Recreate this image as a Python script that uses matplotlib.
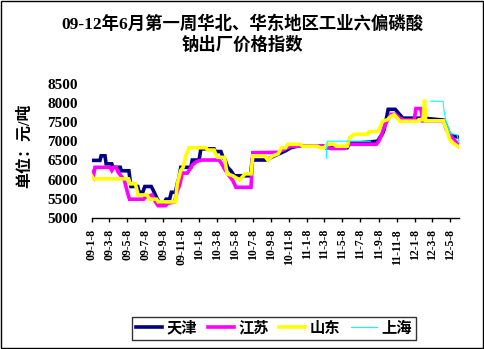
import numpy as np
import pandas as pd
import matplotlib
matplotlib.use("Agg")
import matplotlib.pyplot as plt
from matplotlib.patches import Rectangle

plt.rcParams['font.family'] = ['Liberation Serif', 'Noto Sans CJK SC']
plt.rcParams['font.weight'] = 'bold'

title = "09-12年6月第一周华北、华东地区工业六偏磷酸\n钠出厂价格指数"
y_label = "单位：元/吨"
series_names = ["天津", "江苏", "山东", "上海"]
series_colors = ["#000080", "#FF00FF", "#FFFF00", "#00FFFF"]

# price index per region, one point where the weekly quote changes
tianjin_dates = [
    "2009-01-08", "2009-02-05", "2009-02-09", "2009-02-22", "2009-02-26", "2009-03-17",
    "2009-03-21", "2009-04-15", "2009-04-18", "2009-05-14", "2009-05-21", "2009-06-13",
    "2009-06-18", "2009-06-30", "2009-07-07", "2009-07-29", "2009-08-06", "2009-08-15",
    "2009-08-24", "2009-09-11", "2009-09-17", "2009-09-29", "2009-10-05", "2009-10-19",
    "2009-10-25", "2009-10-31", "2009-11-06", "2009-12-10", "2009-12-15", "2010-01-07",
    "2010-01-13", "2010-02-27", "2010-03-03", "2010-03-22", "2010-03-28", "2010-04-05",
    "2010-04-14", "2010-04-25", "2010-05-06", "2010-06-30", "2010-07-06", "2010-08-23",
    "2010-09-14", "2010-10-13", "2010-10-27", "2010-11-14", "2010-12-06", "2011-03-05",
    "2011-03-12", "2011-05-24", "2011-06-02", "2011-07-08", "2011-09-04", "2011-09-12",
    "2011-09-21", "2011-09-26", "2011-10-02", "2011-10-10", "2011-11-03", "2011-11-15",
    "2011-11-29", "2012-02-06", "2012-04-14", "2012-04-22", "2012-05-03", "2012-05-12",
    "2012-06-05",
]
tianjin_vals = [
    6500, 6500, 6620, 6620, 6410, 6410,
    6320, 6320, 6230, 6230, 5820, 5820,
    5670, 5670, 5820, 5820, 5700, 5550,
    5400, 5400, 5490, 5490, 5670, 5670,
    5900, 6050, 6320, 6320, 6510, 6510,
    6800, 6800, 6730, 6730, 6600, 6510,
    6320, 6230, 6100, 6100, 6510, 6510,
    6600, 6700, 6750, 6830, 6870, 6870,
    6830, 6830, 6960, 6960, 7000, 7100,
    7200, 7300, 7520, 7830, 7830, 7720,
    7600, 7600, 7550, 7430, 7220, 7150,
    7100,
]

jiangsu_dates = [
    "2009-01-08", "2009-01-14", "2009-01-19", "2009-03-11", "2009-03-17", "2009-03-23",
    "2009-04-01", "2009-04-07", "2009-04-17", "2009-04-28", "2009-05-07", "2009-05-16",
    "2009-07-03", "2009-07-10", "2009-08-01", "2009-08-12", "2009-08-21", "2009-09-15",
    "2009-09-23", "2009-10-16", "2009-10-25", "2009-11-02", "2009-11-11", "2009-11-28",
    "2009-12-06", "2009-12-15", "2009-12-30", "2010-01-15", "2010-03-16", "2010-03-24",
    "2010-04-03", "2010-04-14", "2010-05-01", "2010-05-12", "2010-07-02", "2010-07-08",
    "2010-10-02", "2010-10-11", "2010-11-14", "2011-03-12", "2011-03-29", "2011-05-13",
    "2011-05-24", "2011-06-04", "2011-08-31", "2011-09-08", "2011-09-17", "2011-09-27",
    "2011-10-08", "2011-10-19", "2011-11-03", "2011-11-18", "2011-12-01", "2012-01-06",
    "2012-01-12", "2012-01-29", "2012-02-03", "2012-04-14", "2012-04-25", "2012-05-09",
    "2012-05-18", "2012-05-29", "2012-06-05",
]
jiangsu_vals = [
    6200, 6100, 6320, 6320, 6240, 6320,
    6320, 6200, 6100, 6000, 5730, 5490,
    5490, 5550, 5600, 5420, 5320, 5320,
    5380, 5420, 5700, 5850, 6170, 6170,
    6260, 6380, 6470, 6510, 6510, 6420,
    6280, 6150, 5980, 5800, 5800, 6700,
    6710, 6750, 6870, 6870, 6810, 6810,
    6870, 6920, 6920, 7000, 7150, 7380,
    7550, 7700, 7700, 7600, 7550, 7550,
    7850, 7850, 7530, 7530, 7290, 7150,
    7060, 6960, 6880,
]

shandong_dates = [
    "2009-01-08", "2009-01-14", "2009-05-13", "2009-05-19", "2009-06-05", "2009-06-11",
    "2009-06-14", "2009-07-15", "2009-07-23", "2009-08-16", "2009-08-21", "2009-10-19",
    "2009-10-25", "2009-11-06", "2009-11-14", "2009-11-23", "2009-12-04", "2010-01-30",
    "2010-02-05", "2010-02-27", "2010-03-05", "2010-03-11", "2010-04-03", "2010-04-12",
    "2010-05-01", "2010-05-12", "2010-05-24", "2010-06-04", "2010-06-12", "2010-07-02",
    "2010-07-08", "2010-08-17", "2010-08-28", "2010-09-14", "2010-10-02", "2010-10-13",
    "2010-10-27", "2010-11-04", "2010-12-17", "2010-12-23", "2011-02-12", "2011-02-21",
    "2011-03-08", "2011-03-17", "2011-04-08", "2011-04-17", "2011-05-24", "2011-06-01",
    "2011-06-16", "2011-07-31", "2011-08-06", "2011-09-03", "2011-09-12", "2011-09-21",
    "2011-10-08", "2011-10-19", "2011-10-30", "2011-11-10", "2011-11-18", "2012-01-16",
    "2012-01-22", "2012-02-05", "2012-02-10", "2012-02-14", "2012-04-14", "2012-04-25",
    "2012-05-06", "2012-05-19", "2012-06-05",
]
shandong_vals = [
    6100, 6020, 6020, 5890, 5890, 5700,
    5600, 5600, 5490, 5490, 5420, 5420,
    5890, 6240, 6320, 6620, 6830, 6830,
    6770, 6770, 6650, 6580, 6580, 6150,
    6100, 6050, 5990, 6080, 6150, 6150,
    6620, 6620, 6510, 6620, 6670, 6830,
    6830, 6920, 6920, 6870, 6870, 6830,
    6830, 6920, 6920, 6870, 6870, 7090,
    7180, 7180, 7250, 7250, 7350, 7520,
    7560, 7650, 7690, 7600, 7520, 7520,
    7560, 7560, 8080, 7530, 7530, 7300,
    7040, 6940, 6850,
]

# Shanghai quotes are missing between Aug 2011 and Mar 2012
shanghai_dates = [
    "2011-03-14", "2011-03-17", "2011-08-11", "2011-08-20",
    "2012-03-02", "2012-04-13", "2012-04-16", "2012-04-24",
    "2012-05-09", "2012-05-30", "2012-06-05",
]
shanghai_vals = [
    6550, 7000, 7000, np.nan,
    8040, 8040, 7800, 7480,
    7200, 7170, 7000,
]

y_ticks = [5000, 5500, 6000, 6500, 7000, 7500, 8000, 8500]
x_start, x_end = "2009-01-08", "2012-06-06"
tick_dates = pd.to_datetime([f"{y}-{m:02d}-08" for y in range(2009, 2013)
                             for m in range(1, 13, 2)])
tick_dates = tick_dates[tick_dates <= pd.Timestamp("2012-05-08")]
tick_labels = [f"{d:%y}-{d.month}-{d.day}" for d in tick_dates]

W, H = 485, 349
fig = plt.figure(figsize=(W / 100, H / 100), dpi=100)
fig.patch.set_facecolor("white")
ax = fig.add_axes([91.7 / W, 1 - 218 / H, (459 - 91.7) / W, (218 - 83.6) / H])

all_series = [
    (tianjin_dates, tianjin_vals, 2.6),
    (jiangsu_dates, jiangsu_vals, 2.6),
    (shandong_dates, shandong_vals, 2.6),
    (shanghai_dates, shanghai_vals, 0.8),
]
for (dates, vals, lw), name, color in zip(all_series, series_names, series_colors):
    ax.plot(pd.to_datetime(dates), vals, color=color, lw=lw, label=name,
            solid_joinstyle="miter")

ax.set_xlim(pd.Timestamp(x_start), pd.Timestamp(x_end))
ax.set_ylim(5000, 8500)
ax.set_yticks(y_ticks)
ax.set_xticks(tick_dates)
ax.set_xticklabels(tick_labels)

for side in ["left", "right", "top"]:
    ax.spines[side].set_visible(False)
ax.spines["bottom"].set_linewidth(1.0)
ax.tick_params(axis="x", direction="out", length=3, width=1.0, pad=5,
               labelrotation=90, labelsize=8.5)
ax.tick_params(axis="y", length=0, pad=10, labelsize=11)

fig.text(0.5, 1 - 34.5 / H, title, ha="center", va="center", fontsize=12.5,
         linespacing=1.25)
fig.text(25.5 / W, 1 - 145.5 / H, y_label, rotation=90, ha="center", va="center",
         fontsize=11.5)

leg = fig.legend(loc="center", bbox_to_anchor=(274 / W, 1 - 328.5 / H), ncol=4,
                 frameon=True, fancybox=False, shadow=False, fontsize=11,
                 handlelength=1.7, handletextpad=0.3, columnspacing=0.7,
                 borderpad=0.25, borderaxespad=0)
leg.get_frame().set_edgecolor("black")
leg.get_frame().set_linewidth(1.0)

# outer frame of the whole chart
fig.add_artist(Rectangle((0.5 / W, 1.5 / H), 482.5 / W, 347 / H,
                         transform=fig.transFigure, fill=False,
                         edgecolor="black", linewidth=1.0))

fig.savefig("out.png", dpi=100, facecolor="white")
